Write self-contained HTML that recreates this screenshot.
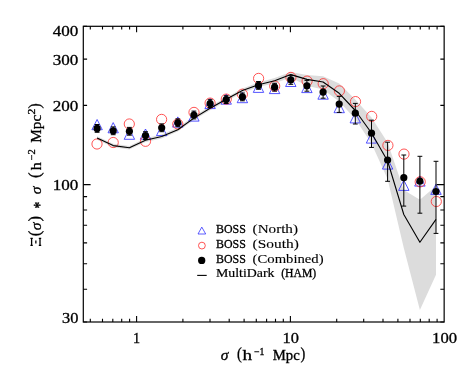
<!DOCTYPE html><html><head><meta charset="utf-8"><style>html,body{margin:0;padding:0;background:#fff}svg{display:block;will-change:transform}</style></head><body><svg width="469" height="375" viewBox="0 0 469 375">
<rect width="469" height="375" fill="#fff"/>
<polygon points="97.1,136.3 113.2,143.8 129.4,145.9 145.5,138.3 161.7,134.6 177.8,127.7 193.9,116.1 210.1,106.2 226.2,97.4 242.4,88.5 258.5,82.4 274.6,77.9 290.8,72.0 306.9,75.0 323.1,76.3 339.2,83.5 355.3,99.6 371.5,117.5 387.6,142.5 403.8,190.0 419.9,199.7 436.0,186.0 436.0,274.8 419.9,310.1 403.8,248.0 387.6,179.0 371.5,143.5 355.3,119.0 339.2,101.4 323.1,89.5 306.9,85.8 290.8,77.5 274.6,83.3 258.5,87.0 242.4,92.7 226.2,101.2 210.1,110.3 193.9,120.1 177.8,131.6 161.7,138.4 145.5,142.0 129.4,149.5 113.2,147.3 97.1,139.7" fill="#dcdcdc"/>
<polygon points="91.9,129.7 97.1,119.5 102.3,129.7" fill="none" stroke="#2a2aff" stroke-width="0.8"/>
<polygon points="108.0,132.8 113.2,122.6 118.4,132.8" fill="none" stroke="#2a2aff" stroke-width="0.8"/>
<polygon points="124.2,139.3 129.4,129.1 134.6,139.3" fill="none" stroke="#2a2aff" stroke-width="0.8"/>
<polygon points="140.3,139.2 145.5,129.0 150.7,139.2" fill="none" stroke="#2a2aff" stroke-width="0.8"/>
<polygon points="156.5,135.6 161.7,125.4 166.9,135.6" fill="none" stroke="#2a2aff" stroke-width="0.8"/>
<polygon points="172.6,127.1 177.8,116.9 183.0,127.1" fill="none" stroke="#2a2aff" stroke-width="0.8"/>
<polygon points="188.7,121.1 193.9,110.9 199.1,121.1" fill="none" stroke="#2a2aff" stroke-width="0.8"/>
<polygon points="204.9,108.6 210.1,98.4 215.3,108.6" fill="none" stroke="#2a2aff" stroke-width="0.8"/>
<polygon points="221.0,104.2 226.2,94.0 231.4,104.2" fill="none" stroke="#2a2aff" stroke-width="0.8"/>
<polygon points="237.2,102.7 242.4,92.5 247.6,102.7" fill="none" stroke="#2a2aff" stroke-width="0.8"/>
<polygon points="253.3,92.4 258.5,82.2 263.7,92.4" fill="none" stroke="#2a2aff" stroke-width="0.8"/>
<polygon points="269.4,93.6 274.6,83.4 279.8,93.6" fill="none" stroke="#2a2aff" stroke-width="0.8"/>
<polygon points="285.6,86.5 290.8,76.3 296.0,86.5" fill="none" stroke="#2a2aff" stroke-width="0.8"/>
<polygon points="301.7,92.6 306.9,82.4 312.1,92.6" fill="none" stroke="#2a2aff" stroke-width="0.8"/>
<polygon points="317.9,99.2 323.1,89.0 328.3,99.2" fill="none" stroke="#2a2aff" stroke-width="0.8"/>
<polygon points="334.0,112.7 339.2,102.5 344.4,112.7" fill="none" stroke="#2a2aff" stroke-width="0.8"/>
<polygon points="350.1,122.9 355.3,112.7 360.5,122.9" fill="none" stroke="#2a2aff" stroke-width="0.8"/>
<polygon points="366.3,143.1 371.5,132.9 376.7,143.1" fill="none" stroke="#2a2aff" stroke-width="0.8"/>
<polygon points="382.4,169.1 387.6,158.9 392.8,169.1" fill="none" stroke="#2a2aff" stroke-width="0.8"/>
<polygon points="398.6,190.4 403.8,180.2 409.0,190.4" fill="none" stroke="#2a2aff" stroke-width="0.8"/>
<polygon points="414.7,186.1 419.9,175.9 425.1,186.1" fill="none" stroke="#2a2aff" stroke-width="0.8"/>
<polygon points="430.8,194.4 436.0,184.2 441.2,194.4" fill="none" stroke="#2a2aff" stroke-width="0.8"/>
<circle cx="97.0" cy="144.0" r="5.1" fill="none" stroke="#ff2a2a" stroke-width="0.8"/>
<circle cx="113.2" cy="142.5" r="5.1" fill="none" stroke="#ff2a2a" stroke-width="0.8"/>
<circle cx="129.3" cy="124.0" r="5.1" fill="none" stroke="#ff2a2a" stroke-width="0.8"/>
<circle cx="145.5" cy="141.3" r="5.1" fill="none" stroke="#ff2a2a" stroke-width="0.8"/>
<circle cx="161.6" cy="119.4" r="5.1" fill="none" stroke="#ff2a2a" stroke-width="0.8"/>
<circle cx="177.8" cy="124.0" r="5.1" fill="none" stroke="#ff2a2a" stroke-width="0.8"/>
<circle cx="194.0" cy="112.4" r="5.1" fill="none" stroke="#ff2a2a" stroke-width="0.8"/>
<circle cx="210.1" cy="103.1" r="5.1" fill="none" stroke="#ff2a2a" stroke-width="0.8"/>
<circle cx="226.3" cy="99.1" r="5.1" fill="none" stroke="#ff2a2a" stroke-width="0.8"/>
<circle cx="242.4" cy="94.2" r="5.1" fill="none" stroke="#ff2a2a" stroke-width="0.8"/>
<circle cx="258.6" cy="78.4" r="5.1" fill="none" stroke="#ff2a2a" stroke-width="0.8"/>
<circle cx="274.7" cy="86.1" r="5.1" fill="none" stroke="#ff2a2a" stroke-width="0.8"/>
<circle cx="290.9" cy="77.4" r="5.1" fill="none" stroke="#ff2a2a" stroke-width="0.8"/>
<circle cx="307.1" cy="81.1" r="5.1" fill="none" stroke="#ff2a2a" stroke-width="0.8"/>
<circle cx="323.2" cy="83.7" r="5.1" fill="none" stroke="#ff2a2a" stroke-width="0.8"/>
<circle cx="339.4" cy="90.9" r="5.1" fill="none" stroke="#ff2a2a" stroke-width="0.8"/>
<circle cx="355.5" cy="101.6" r="5.1" fill="none" stroke="#ff2a2a" stroke-width="0.8"/>
<circle cx="371.7" cy="116.4" r="5.1" fill="none" stroke="#ff2a2a" stroke-width="0.8"/>
<circle cx="387.9" cy="145.4" r="5.1" fill="none" stroke="#ff2a2a" stroke-width="0.8"/>
<circle cx="404.0" cy="154.1" r="5.1" fill="none" stroke="#ff2a2a" stroke-width="0.8"/>
<circle cx="420.2" cy="181.8" r="5.1" fill="none" stroke="#ff2a2a" stroke-width="0.8"/>
<circle cx="436.3" cy="201.5" r="5.1" fill="none" stroke="#ff2a2a" stroke-width="0.8"/>
<polyline points="97.1,138.0 113.2,145.6 129.4,147.7 145.5,140.2 161.7,136.5 177.8,129.7 193.9,118.1 210.1,108.3 226.2,99.3 242.4,90.6 258.5,84.8 274.6,80.7 290.8,74.6 306.9,79.4 323.1,82.0 339.2,93.3 355.3,110.5 371.5,133.0 387.6,161.0 403.8,214.5 419.9,242.3 436.0,219.4" fill="none" stroke="#000" stroke-width="1.1" stroke-linejoin="round"/>
<circle cx="97.1" cy="128.4" r="3.6" fill="#000"/>
<path d="M97.1,124.5V132.3M94.7,124.5h4.8M94.7,132.3h4.8" stroke="#000" stroke-width="1" fill="none"/>
<circle cx="113.2" cy="130.8" r="3.6" fill="#000"/>
<path d="M113.2,126.9V134.7M110.8,126.9h4.8M110.8,134.7h4.8" stroke="#000" stroke-width="1" fill="none"/>
<circle cx="129.4" cy="131.3" r="3.6" fill="#000"/>
<path d="M129.4,127.4V135.2M127.0,127.4h4.8M127.0,135.2h4.8" stroke="#000" stroke-width="1" fill="none"/>
<circle cx="145.5" cy="135.6" r="3.6" fill="#000"/>
<path d="M145.5,131.7V139.5M143.1,131.7h4.8M143.1,139.5h4.8" stroke="#000" stroke-width="1" fill="none"/>
<circle cx="161.7" cy="127.8" r="3.6" fill="#000"/>
<path d="M161.7,123.9V131.7M159.3,123.9h4.8M159.3,131.7h4.8" stroke="#000" stroke-width="1" fill="none"/>
<circle cx="177.8" cy="122.8" r="3.6" fill="#000"/>
<path d="M177.8,118.9V126.7M175.4,118.9h4.8M175.4,126.7h4.8" stroke="#000" stroke-width="1" fill="none"/>
<circle cx="193.9" cy="115.0" r="3.6" fill="#000"/>
<path d="M193.9,111.1V118.9M191.5,111.1h4.8M191.5,118.9h4.8" stroke="#000" stroke-width="1" fill="none"/>
<circle cx="210.1" cy="103.6" r="3.6" fill="#000"/>
<path d="M210.1,99.7V107.5M207.7,99.7h4.8M207.7,107.5h4.8" stroke="#000" stroke-width="1" fill="none"/>
<circle cx="226.2" cy="99.6" r="3.6" fill="#000"/>
<path d="M226.2,95.7V103.5M223.8,95.7h4.8M223.8,103.5h4.8" stroke="#000" stroke-width="1" fill="none"/>
<circle cx="242.4" cy="96.9" r="3.6" fill="#000"/>
<path d="M242.4,93.0V100.8M240.0,93.0h4.8M240.0,100.8h4.8" stroke="#000" stroke-width="1" fill="none"/>
<circle cx="258.5" cy="85.4" r="3.6" fill="#000"/>
<path d="M258.5,81.5V89.3M256.1,81.5h4.8M256.1,89.3h4.8" stroke="#000" stroke-width="1" fill="none"/>
<circle cx="274.6" cy="87.2" r="3.6" fill="#000"/>
<path d="M274.6,83.3V91.1M272.2,83.3h4.8M272.2,91.1h4.8" stroke="#000" stroke-width="1" fill="none"/>
<circle cx="290.8" cy="79.8" r="3.6" fill="#000"/>
<path d="M290.8,75.3V84.3M288.4,75.3h4.8M288.4,84.3h4.8" stroke="#000" stroke-width="1" fill="none"/>
<circle cx="306.9" cy="85.8" r="3.6" fill="#000"/>
<path d="M306.9,80.4V91.2M304.5,80.4h4.8M304.5,91.2h4.8" stroke="#000" stroke-width="1" fill="none"/>
<circle cx="323.1" cy="92.1" r="3.6" fill="#000"/>
<path d="M323.1,86.0V98.2M320.7,86.0h4.8M320.7,98.2h4.8" stroke="#000" stroke-width="1" fill="none"/>
<circle cx="339.2" cy="104.1" r="3.6" fill="#000"/>
<path d="M339.2,96.4V112.4M336.8,96.4h4.8M336.8,112.4h4.8" stroke="#000" stroke-width="1" fill="none"/>
<circle cx="355.3" cy="113.2" r="3.6" fill="#000"/>
<path d="M355.3,103.4V124.0M352.9,103.4h4.8M352.9,124.0h4.8" stroke="#000" stroke-width="1" fill="none"/>
<circle cx="371.5" cy="133.2" r="3.6" fill="#000"/>
<path d="M371.5,120.2V147.4M369.1,120.2h4.8M369.1,147.4h4.8" stroke="#000" stroke-width="1" fill="none"/>
<circle cx="387.6" cy="160.0" r="3.6" fill="#000"/>
<path d="M387.6,142.2V181.3M385.2,142.2h4.8M385.2,181.3h4.8" stroke="#000" stroke-width="1" fill="none"/>
<circle cx="403.8" cy="177.7" r="3.6" fill="#000"/>
<path d="M403.8,155.0V206.1M401.4,155.0h4.8M401.4,206.1h4.8" stroke="#000" stroke-width="1" fill="none"/>
<circle cx="419.9" cy="181.2" r="3.6" fill="#000"/>
<path d="M419.9,156.3V213.2M417.5,156.3h4.8M417.5,213.2h4.8" stroke="#000" stroke-width="1" fill="none"/>
<circle cx="436.0" cy="191.5" r="3.6" fill="#000"/>
<path d="M436.0,161.3V233.4M433.6,161.3h4.8M433.6,233.4h4.8" stroke="#000" stroke-width="1" fill="none"/>
<rect x="83.3" y="26.3" width="360.84999999999997" height="295.7" fill="none" stroke="#000" stroke-width="1.2"/>
<path d="M90.3,322.0v-3.2M90.3,26.3v3.2M102.5,322.0v-3.2M102.5,26.3v3.2M112.8,322.0v-3.2M112.8,26.3v3.2M121.7,322.0v-3.2M121.7,26.3v3.2M129.6,322.0v-3.2M129.6,26.3v3.2M136.6,322.0v-6M136.6,26.3v6M182.9,322.0v-3.2M182.9,26.3v3.2M210.0,322.0v-3.2M210.0,26.3v3.2M229.2,322.0v-3.2M229.2,26.3v3.2M244.1,322.0v-3.2M244.1,26.3v3.2M256.3,322.0v-3.2M256.3,26.3v3.2M266.6,322.0v-3.2M266.6,26.3v3.2M275.5,322.0v-3.2M275.5,26.3v3.2M283.3,322.0v-3.2M283.3,26.3v3.2M290.4,322.0v-6M290.4,26.3v6M336.7,322.0v-3.2M336.7,26.3v3.2M363.7,322.0v-3.2M363.7,26.3v3.2M383.0,322.0v-3.2M383.0,26.3v3.2M397.9,322.0v-3.2M397.9,26.3v3.2M410.0,322.0v-3.2M410.0,26.3v3.2M420.3,322.0v-3.2M420.3,26.3v3.2M429.2,322.0v-3.2M429.2,26.3v3.2M437.1,322.0v-3.2M437.1,26.3v3.2M83.3,322.0h3.8M444.15,322.0h-3.8M83.3,289.2h3.8M444.15,289.2h-3.8M83.3,263.7h3.8M444.15,263.7h-3.8M83.3,242.9h3.8M444.15,242.9h-3.8M83.3,225.3h3.8M444.15,225.3h-3.8M83.3,210.0h3.8M444.15,210.0h-3.8M83.3,196.6h3.8M444.15,196.6h-3.8M83.3,184.6h7.3M444.15,184.6h-7.3M83.3,105.4h3.8M444.15,105.4h-3.8M83.3,59.1h3.8M444.15,59.1h-3.8M83.3,26.3h3.8M444.15,26.3h-3.8" stroke="#000" stroke-width="1.1" fill="none"/>
<g font-family="Liberation Serif, serif" fill="#000" stroke="#000" stroke-width="0.3">
<text x="78.4" y="35.8" font-size="14.2" text-anchor="end" textLength="25.6" lengthAdjust="spacingAndGlyphs">400</text>
<text x="78.4" y="64.5" font-size="14.2" text-anchor="end" textLength="25.6" lengthAdjust="spacingAndGlyphs">300</text>
<text x="78.4" y="110.8" font-size="14.2" text-anchor="end" textLength="25.6" lengthAdjust="spacingAndGlyphs">200</text>
<text x="78.4" y="190.0" font-size="14.2" text-anchor="end" textLength="25.6" lengthAdjust="spacingAndGlyphs">100</text>
<text x="78.4" y="322.6" font-size="14.2" text-anchor="end" textLength="16.4" lengthAdjust="spacingAndGlyphs">30</text>
<text x="136.6" y="342.7" font-size="14.2" text-anchor="middle">1</text>
<text x="290.675" y="342.7" font-size="14.2" text-anchor="middle" textLength="16.4" lengthAdjust="spacingAndGlyphs">10</text>
<text x="444.54999999999995" y="342.7" font-size="14.2" text-anchor="middle" textLength="25" lengthAdjust="spacingAndGlyphs">100</text>
<text x="220.7" y="359.5" font-size="14.2" text-anchor="start" textLength="7.7" lengthAdjust="spacingAndGlyphs" font-style="italic">σ</text>
<text x="236.9" y="359.2" font-size="16.3" text-anchor="start" textLength="4.8" lengthAdjust="spacingAndGlyphs">(</text>
<text x="242.6" y="359.5" font-size="14.2" text-anchor="start" textLength="9.6" lengthAdjust="spacingAndGlyphs">h</text>
<text x="254.0" y="355.0" font-size="9.5" text-anchor="start" textLength="10.4" lengthAdjust="spacingAndGlyphs">−1</text>
<text x="272.7" y="359.5" font-size="14.2" text-anchor="start" textLength="27" lengthAdjust="spacingAndGlyphs">Mpc</text>
<text x="300.6" y="359.2" font-size="16.3" text-anchor="start" textLength="4.8" lengthAdjust="spacingAndGlyphs">)</text>
<g transform="translate(41,0) rotate(-90)">
<text x="-236.2" y="-0.75" font-size="16.3" text-anchor="start" textLength="5.6" lengthAdjust="spacingAndGlyphs">(</text>
<text x="-230.2" y="0" font-size="14.4" text-anchor="start" textLength="7.7" lengthAdjust="spacingAndGlyphs" font-style="italic">σ</text>
<text x="-221.5" y="-0.75" font-size="16.3" text-anchor="start" textLength="5.6" lengthAdjust="spacingAndGlyphs">)</text>
<text x="-208.4" y="4.4" font-size="17" text-anchor="start" textLength="6.6" lengthAdjust="spacingAndGlyphs" stroke-width="0.5">*</text>
<text x="-194.2" y="0" font-size="14.4" text-anchor="start" textLength="7.7" lengthAdjust="spacingAndGlyphs" font-style="italic">σ</text>
<text x="-177.9" y="-0.75" font-size="16.3" text-anchor="start" textLength="5.6" lengthAdjust="spacingAndGlyphs">(</text>
<text x="-170.2" y="0" font-size="14.4" text-anchor="start" textLength="8" lengthAdjust="spacingAndGlyphs">h</text>
<text x="-160.4" y="-6.0" font-size="9.5" text-anchor="start" textLength="11.2" lengthAdjust="spacingAndGlyphs">−2</text>
<text x="-142.8" y="0" font-size="14.4" text-anchor="start" textLength="28" lengthAdjust="spacingAndGlyphs">Mpc</text>
<text x="-114.6" y="-6.4" font-size="9.5" text-anchor="start" textLength="5.8" lengthAdjust="spacingAndGlyphs">2</text>
<text x="-108.6" y="-0.75" font-size="16.3" text-anchor="start" textLength="5.2" lengthAdjust="spacingAndGlyphs">)</text>
</g>
<path d="M31.6,238V245.7M40,238V245.7M35.85,240.4V243.6M30.4,238.3H32.8M30.4,245.4H32.8M38.8,238.3H41.2M38.8,245.4H41.2" stroke="#000" stroke-width="1.3" fill="none"/>
</g><g font-family="Liberation Serif, serif" fill="#000" stroke="#000" stroke-width="0.1">
<text x="216.0" y="232.8" font-size="12" text-anchor="start" textLength="29.8" lengthAdjust="spacingAndGlyphs" stroke-width="0.3">BOSS</text>
<text x="216.0" y="247.6" font-size="12" text-anchor="start" textLength="29.8" lengthAdjust="spacingAndGlyphs" stroke-width="0.3">BOSS</text>
<text x="216.0" y="262.6" font-size="12" text-anchor="start" textLength="29.8" lengthAdjust="spacingAndGlyphs" stroke-width="0.3">BOSS</text>
<text x="252.6" y="232.8" font-size="12" text-anchor="start" textLength="45.4" lengthAdjust="spacingAndGlyphs">(North)</text>
<text x="252.6" y="247.6" font-size="12" text-anchor="start" textLength="46.2" lengthAdjust="spacingAndGlyphs">(South)</text>
<text x="252.6" y="262.6" font-size="12" text-anchor="start" textLength="71.0" lengthAdjust="spacingAndGlyphs">(Combined)</text>
<text x="216.0" y="277.2" font-size="12" text-anchor="start" textLength="58.5" lengthAdjust="spacingAndGlyphs" stroke-width="0.18">MultiDark</text>
<text x="281.2" y="277.2" font-size="12" text-anchor="start" textLength="35.0" lengthAdjust="spacingAndGlyphs" stroke-width="0.3">(HAM)</text>
</g>
<polygon points="198,234 201.8,227.1 205.7,234" fill="none" stroke="#2a2aff" stroke-width="0.75"/>
<circle cx="201.9" cy="245.6" r="3.4" fill="none" stroke="#ff2a2a" stroke-width="0.8"/>
<circle cx="201.7" cy="260.4" r="3.65" fill="#000"/>
<path d="M197.2,275.4H206.7" stroke="#000" stroke-width="1.1"/>
</svg></body></html>
